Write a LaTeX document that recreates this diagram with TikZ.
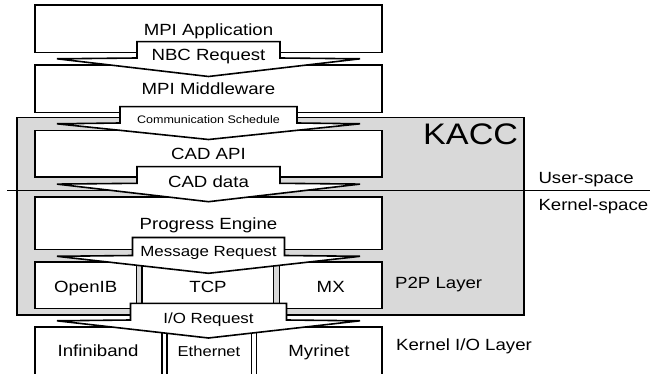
\documentclass[tikz,border=0pt]{standalone}
\usepackage{fontspec}
\setmainfont{Liberation Sans}
\newcommand{\sx}[1]{\scalebox{1.15}[1]{#1}}
\newcommand{\kaccflap}[5]{%
  \draw[arr] (208.5-#2,#3) -- (208.5+#2,#3) -- (208.5+#2,#4) -- (360,#4+0.8)
    -- (208.5,#5) -- (57,#4+0.8) -- (208.5-#2,#4) -- cycle;
  \coordinate (#1) at (208.5,#3);}
\begin{document}
\begin{tikzpicture}[x=1pt,y=-1pt,line join=miter,
  box/.style={draw=black,line width=1.6pt,fill=white},
  arr/.style={draw=black,line width=1.6pt,fill=white},
  txt/.style={inner sep=0pt,anchor=base,font=\fontsize{16.2}{18}\selectfont},
  txtm/.style={inner sep=0pt,anchor=base,font=\fontsize{14.7}{17}\selectfont},
  side/.style={inner sep=0pt,anchor=base west,font=\fontsize{16.2}{18}\selectfont}]
\useasboundingbox (0,0) rectangle (650,374);
\clip (0,0) rectangle (650,374);
% KACC region
\draw[line width=1.3pt,fill=black!15] (17,117.5) rectangle (524,315);
% user/kernel separator
\draw[line width=0.9pt] (7,190.5) -- (650,190.5);
% layer boxes
\draw[box] (35,5) rectangle (382,52.5);
\draw[box] (35,65) rectangle (382,112.5);
\draw[box] (35,130.7) rectangle (382,177.3);
\draw[box] (35,196.7) rectangle (382,249.3);
\draw[box] (35,261.7) rectangle (136.5,308.3);
\draw[box] (142,261.7) rectangle (273.5,308.3);
\draw[box] (279.5,261.7) rectangle (382,308.3);
\draw[box] (35,326.7) rectangle (162,385);
\draw[box] (166.7,326.7) rectangle (251.5,385);
\draw[box] (256.5,326.7) rectangle (382,385);
% arrows with labels
\kaccflap{a1}{71.5}{41.7}{58}{76.5}
\kaccflap{a2}{88.5}{106.7}{123}{139.5}
\kaccflap{a3}{71.5}{166.7}{183.3}{201.7}
\kaccflap{a4}{76}{237.5}{255.5}{273.3}
\kaccflap{a5}{78}{303.3}{320}{338}
% box texts
\node[txt] (app) at (208.5,36) {\sx{MPI Application}};
\node[txt] (nbc) at (208.5,61) {\sx{NBC Request}};
\node[txt] (mid) at (208.5,95) {\sx{MPI Middleware}};
\node[inner sep=0pt,anchor=base,font=\fontsize{10.9}{12}\selectfont] (cs) at (208.5,123.3) {\sx{Communication Schedule}};
\node[txt] (api) at (208.5,160) {\sx{CAD API}};
\node[txt] (cad) at (208.5,187) {\sx{CAD data}};
\node[txt] (pe) at (208.5,229.3) {\sx{Progress Engine}};
\node[txtm] (mr) at (208.5,256.7) {\sx{Message Request}};
\node[txt] (oib) at (85.7,292.7) {\sx{OpenIB}};
\node[txt] (tcp) at (208,292.7) {\sx{TCP}};
\node[txt] (mx) at (330.7,292.7) {\sx{MX}};
\node[txtm] (io) at (208.5,323) {\sx{I/O Request}};
\node[txt] (ib) at (98,356.7) {\sx{Infiniband}};
\node[inner sep=0pt,anchor=base,font=\fontsize{14.4}{16}\selectfont] (eth) at (209,356.7) {\sx{Ethernet}};
\node[txt] (myr) at (319,356.7) {\sx{Myrinet}};
% side labels
\node[inner sep=0pt,anchor=base east,font=\fontsize{29.7}{32}\selectfont] (kacc) at (518.3,145) {\sx{KACC}};
\node[side] (p2p) at (395,288.3) {\sx{P2P Layer}};
\node[side] (kio) at (396,350) {\sx{Kernel I/O Layer}};
\node[side] (us) at (538.3,183.3) {\sx{User-space}};
\node[side] (ks) at (538.3,210) {\sx{Kernel-space}};
\end{tikzpicture}
\end{document}
